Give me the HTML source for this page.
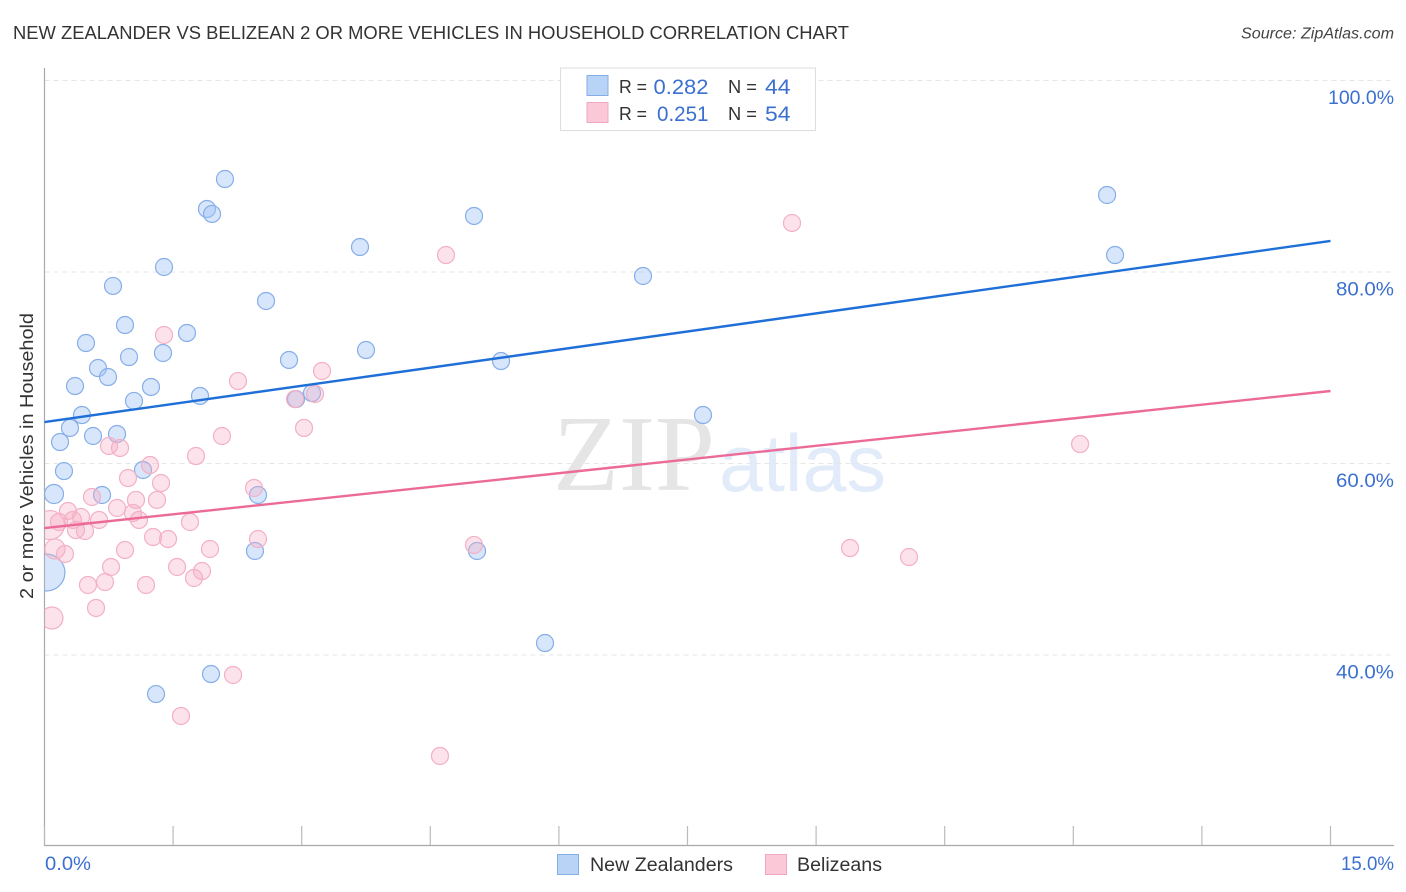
<!DOCTYPE html>
<html lang="en">
<head>
<meta charset="utf-8">
<title>New Zealander vs Belizean 2 or more Vehicles in Household Correlation Chart</title>
<style>
html,body{margin:0;padding:0;background:#fff;width:1406px;height:892px;overflow:hidden}
svg{display:block}
text{font-family:"Liberation Sans",sans-serif}
</style>
</head>
<body>
<svg id="chart" xmlns="http://www.w3.org/2000/svg" width="1406" height="892" viewBox="0 0 1406 892">
  <defs><clipPath id="plot-clip"><rect x="44.5" y="60" width="1350" height="786"/></clipPath></defs>
  <text x="13" y="39" font-size="18.5" fill="#333" textLength="836" lengthAdjust="spacingAndGlyphs">NEW ZEALANDER VS BELIZEAN 2 OR MORE VEHICLES IN HOUSEHOLD CORRELATION CHART</text>
  <text x="1394" y="38.5" font-size="15.5" font-style="italic" fill="#444" text-anchor="end" textLength="153" lengthAdjust="spacingAndGlyphs">Source: ZipAtlas.com</text>
  <g>
    <text x="553" y="490" style="font-family:'Liberation Serif',serif" font-size="108" fill="#e5e5e5" textLength="162" lengthAdjust="spacingAndGlyphs">ZIP</text>
    <text x="719" y="491" font-size="81" fill="#e2ebf9" textLength="167" lengthAdjust="spacingAndGlyphs">atlas</text>
  </g>
  <g id="grid"></g>
  <g id="axes"></g>
  <g id="points-blue" clip-path="url(#plot-clip)"></g>
  <g id="points-pink" clip-path="url(#plot-clip)"></g>
  <g id="trends"></g>
  <text transform="translate(33,456) rotate(-90)" font-size="18.5" fill="#333" text-anchor="middle" textLength="286" lengthAdjust="spacingAndGlyphs">2 or more Vehicles in Household</text>
  <g>
    <rect x="560.5" y="68" width="255" height="62.5" fill="#fff" stroke="#ddd" stroke-width="1"/>
    <rect x="587" y="75.5" width="21" height="20" fill="#b9d3f7" stroke="#86aee6" stroke-width="1"/>
    <rect x="587" y="102.5" width="21" height="20" fill="#fbc8d8" stroke="#f0a8c0" stroke-width="1"/>
    <text x="619" y="93" font-size="18.5" fill="#333" textLength="28" lengthAdjust="spacingAndGlyphs">R =</text>
    <text x="653.5" y="94" font-size="21" fill="#3b70d0" textLength="55" lengthAdjust="spacingAndGlyphs">0.282</text>
    <text x="728" y="93" font-size="18.5" fill="#333" textLength="29" lengthAdjust="spacingAndGlyphs">N =</text>
    <text x="765" y="94" font-size="21" fill="#3b70d0" textLength="25.5" lengthAdjust="spacingAndGlyphs">44</text>
    <text x="619" y="120" font-size="18.5" fill="#333" textLength="28" lengthAdjust="spacingAndGlyphs">R =</text>
    <text x="657" y="121" font-size="21" fill="#3b70d0" textLength="51.5" lengthAdjust="spacingAndGlyphs">0.251</text>
    <text x="728" y="120" font-size="18.5" fill="#333" textLength="29" lengthAdjust="spacingAndGlyphs">N =</text>
    <text x="765" y="121" font-size="21" fill="#3b70d0" textLength="25.5" lengthAdjust="spacingAndGlyphs">54</text>
  </g>
  <g>
    <rect x="557.5" y="854.5" width="21" height="20" fill="#b9d3f7" stroke="#86aee6" stroke-width="1"/>
    <text x="590" y="871" font-size="19" fill="#333" textLength="143" lengthAdjust="spacingAndGlyphs">New Zealanders</text>
    <rect x="765.5" y="854.5" width="21" height="20" fill="#fbc8d8" stroke="#f0a8c0" stroke-width="1"/>
    <text x="797" y="871" font-size="19" fill="#333" textLength="85" lengthAdjust="spacingAndGlyphs">Belizeans</text>
  </g>
</svg>
<script>
// ---- chart data (percent units) ----
const xTickValues = [0, 1.5, 3, 4.5, 6, 7.5, 9, 10.5, 12, 13.5, 15];
const xTickLabels = ["0.0%", "15.0%"];
const yGridValues = [100, 80, 60, 40];
const yTickLabels = ["100.0%", "80.0%", "60.0%", "40.0%"];

const blueX = [2.105,1.895,1.954,5.010,12.394,12.487,3.680,1.394,6.981,0.799,2.584,0.939,1.662,0.484,1.382,0.986,3.750,2.852,5.325,0.624,0.741,0.356,1.242,1.044,1.814,3.120,2.934,0.437,7.681,0.297,0.566,0.846,0.181,0.227,1.149,0.111,0.671,2.490,2.455,5.045,0.023,5.838,1.942,1.301];
const blueY = [89.66,86.53,86.01,85.80,87.99,81.72,82.56,80.47,79.53,78.49,76.92,74.41,73.58,72.53,71.49,71.07,71.80,70.76,70.65,69.92,68.98,68.04,67.94,66.48,67.00,67.31,66.68,65.01,65.01,63.66,62.82,63.03,62.19,59.16,59.27,56.76,56.66,56.66,50.81,50.81,48.56,41.20,37.96,35.87];
const blueWeight = [1,1,1,1,1,1,1,1,1,1,1,1,1,1,1,1,1,1,1,1,1,1,1,1,1,1,1,1,1,1,1,1,1,1,1,1.25,1,1,1,1,4.7,1,1,1];

const pinkX = [8.719,4.683,1.394,3.237,2.257,2.922,3.155,3.027,2.070,12.079,0.752,0.881,1.231,1.767,0.974,1.359,2.444,0.554,1.312,1.067,0.846,1.032,0.274,0.426,0.636,1.102,1.697,0.169,0.332,0.367,0.064,0.472,2.490,1.266,1.441,5.010,0.122,0.239,0.939,1.930,9.396,10.084,0.776,1.546,1.837,1.744,0.507,0.706,1.184,0.601,0.087,2.199,1.592,4.613];
const pinkY = [85.07,81.72,73.37,69.61,68.56,66.68,67.21,63.66,62.82,61.98,61.78,61.57,59.79,60.73,58.43,57.91,57.39,56.45,56.14,56.14,55.30,54.78,54.99,54.36,54.05,54.05,53.84,53.84,54.05,53.00,53.52,52.90,52.06,52.27,52.06,51.44,51.02,50.50,50.91,51.02,51.12,50.18,49.14,49.14,48.72,47.99,47.26,47.57,47.26,44.86,43.81,37.86,33.58,29.40];
const pinkWeight = [1,1,1,1,1,1,1,1,1,1,1,1,1,1,1,1,1,1,1,1,1,1,1,1,1,1,1,1,1,1,2.9,1,1,1,1,1,1.4,1,1,1,1,1,1,1,1,1,1,1,1,1,1.67,1,1,1];

const blueTrendX = [0, 15];
const blueTrendY = [64.28, 83.19];
const pinkTrendX = [0, 15];
const pinkTrendY = [53.21, 67.52];

// ---- axis functions ----
const X0 = 44.5, X1 = 1330.5, XMAX = 15;
const Y100 = 80, PX_PER_PCT = 9.575;
function xScale(v) { return X0 + (X1 - X0) * v / XMAX; }
function yScale(v) { return Y100 + (100 - v) * PX_PER_PCT; }
function radius(w) { return 8.5 * Math.sqrt(w); }

const NS = 'http://www.w3.org/2000/svg';
function make(tag, attrs, parent) {
  const el = document.createElementNS(NS, tag);
  for (const k in attrs) el.setAttribute(k, attrs[k]);
  parent.appendChild(el);
  return el;
}

const grid = document.getElementById('grid');
const axes = document.getElementById('axes');
const trends = document.getElementById('trends');
const chartSvg = document.getElementById('chart');

yGridValues.forEach(function (v, i) {
  const line = make('line', {x1: X0, x2: 1394, y1: yScale(v) + 0.5, y2: yScale(v) + 0.5, stroke: '#e6e6e6', 'stroke-width': 1, 'stroke-dasharray': '5 4'}, grid);
  
  
  const label = make('text', {x: 1394, y: yScale(v) + 24, 'font-size': 19.5, fill: '#3b70d0', 'text-anchor': 'end', textLength: yTickLabels[i].length * 8 + 18, lengthAdjust: 'spacingAndGlyphs'}, chartSvg);
  label.textContent = yTickLabels[i];
  
  
});

const yAxisLine = make('line', {x1: 44.5, x2: 44.5, y1: 68, y2: 846, stroke: '#aaa', 'stroke-width': 1.2}, axes);


const xAxisLine = make('line', {x1: 44, x2: 1394, y1: 845.5, y2: 845.5, stroke: '#aaa', 'stroke-width': 1.2}, axes);



xTickValues.forEach(function (v) {
  const t = make('line', {x1: xScale(v), x2: xScale(v), y1: 826, y2: 845, stroke: '#bbb', 'stroke-width': 1.2}, axes);
  
  
});

const xLabelStart = make('text', {x: 45, y: 870, 'font-size': 19.5, fill: '#3b70d0', textLength: 46, lengthAdjust: 'spacingAndGlyphs'}, chartSvg);
xLabelStart.textContent = xTickLabels[0];


const xLabelEnd = make('text', {x: 1394, y: 870, 'font-size': 19.5, fill: '#3b70d0', 'text-anchor': 'end', textLength: 53, lengthAdjust: 'spacingAndGlyphs'}, chartSvg);
xLabelEnd.textContent = xTickLabels[1];



const blueGroup = document.getElementById('points-blue');
blueX.forEach(function (x, i) {
  const c = make('circle', {cx: xScale(x), cy: yScale(blueY[i]), r: radius(blueWeight[i]), fill: 'rgba(160,196,245,0.42)', stroke: '#86aee8', 'stroke-width': 1.2}, blueGroup);
  
  
});

const pinkGroup = document.getElementById('points-pink');
pinkX.forEach(function (x, i) {
  const c = make('circle', {cx: xScale(x), cy: yScale(pinkY[i]), r: radius(pinkWeight[i]), fill: 'rgba(248,176,198,0.36)', stroke: '#f3b0c6', 'stroke-width': 1.2}, pinkGroup);
  
  
});

const blueTrend = make('line', {x1: xScale(blueTrendX[0]), y1: yScale(blueTrendY[0]), x2: xScale(blueTrendX[1]), y2: yScale(blueTrendY[1]), stroke: '#1f6fd8', 'stroke-width': 2.4}, trends);


const pinkTrend = make('line', {x1: xScale(pinkTrendX[0]), y1: yScale(pinkTrendY[0]), x2: xScale(pinkTrendX[1]), y2: yScale(pinkTrendY[1]), stroke: '#ec6a98', 'stroke-width': 2.4}, trends);


</script>
</body>
</html>
